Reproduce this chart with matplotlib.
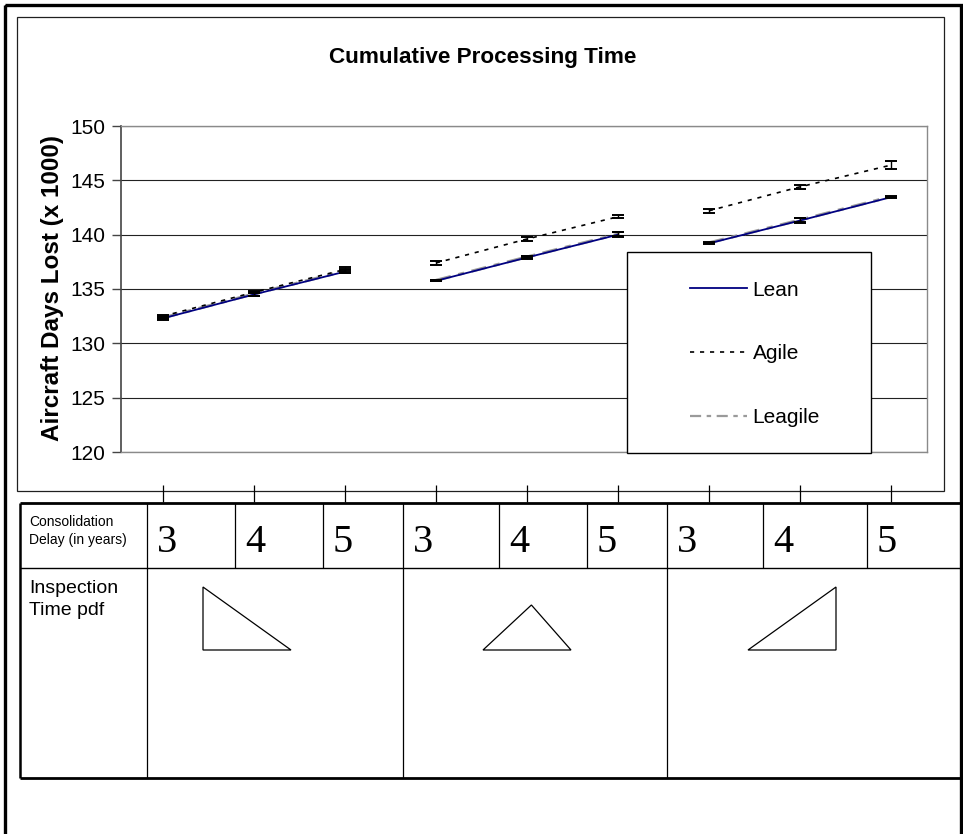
import matplotlib.pyplot as plt
import matplotlib.transforms as mtransforms
from matplotlib.lines import Line2D
from matplotlib.patches import Polygon, Rectangle
import numpy as np

# consolidation delay for each of the nine scenarios (3 pdf shapes x 3 delays)
delay_years = [3, 4, 5, 3, 4, 5, 3, 4, 5]
# where the inspection time pdf peaks inside its range (0 = left, 1 = right)
pdf_peak = [0.0, 0.55, 1.0]

# aircraft days lost (x 1000) and error bar half-widths
lean = [132.3, 134.5, 136.6, 135.75, 137.9, 140.0, 139.2, 141.3, 143.45]
lean_err = [0.15, 0.15, 0.15, 0.05, 0.1, 0.2, 0.05, 0.25, 0.05]
agile = [132.5, 134.7, 136.8, 137.4, 139.6, 141.65, 142.2, 144.4, 146.4]
agile_err = [0.15, 0.1, 0.2, 0.15, 0.15, 0.15, 0.2, 0.2, 0.4]
leagile = [132.35, 134.55, 136.65, 135.8, 137.95, 140.05, 139.25, 141.35, 143.5]
leagile_err = [0.15, 0.15, 0.2, 0.05, 0.1, 0.15, 0.05, 0.2, 0.05]

SANS = ["Liberation Sans", "DejaVu Sans"]
W, H = 963, 834

fig = plt.figure(figsize=(W / 100, H / 100), dpi=100)

# page layer in pixel coordinates, origin at top left
page = fig.add_axes([0, 0, 1, 1], zorder=0)
page.set_xlim(0, W)
page.set_ylim(H, 0)
page.axis("off")


def px_box(x0, y0, x1, y1):
    return [x0 / W, 1 - y1 / H, (x1 - x0) / W, (y1 - y0) / H]


ax = fig.add_axes(px_box(121, 126, 927, 452), zorder=2)

x = np.arange(len(delay_years))
groups = [slice(0, 3), slice(3, 6), slice(6, 9)]

lean_style = dict(color="#000080", lw=1.3, ls="-")
agile_style = dict(color="black", lw=1.2, ls=(0, (2.5, 3.5)))
leagile_style = dict(color="#9a9a9a", lw=2.2, ls=(0, (5, 2.5, 2, 2.5)))

for g in groups:
    ax.plot(x[g], leagile[g], zorder=2, **leagile_style)
    ax.plot(x[g], lean[g], zorder=3, **lean_style)
    ax.plot(x[g], agile[g], zorder=3, **agile_style)

for vals, errs in [(leagile, leagile_err), (lean, lean_err), (agile, agile_err)]:
    ax.errorbar(x, vals, yerr=errs, fmt="none", ecolor="black",
                elinewidth=1.0, capsize=4.5, capthick=1.4, zorder=4)

ax.set_ylim(120, 150)
ax.set_xlim(-0.4615, 8.3956)
ax.set_yticks(range(120, 151, 5))
ax.set_xticks([])
ax.grid(axis="y", color="#222222", lw=0.8)
ax.set_axisbelow(True)
for side in ["top", "right", "bottom"]:
    ax.spines[side].set_color("#8a8a8a")
    ax.spines[side].set_linewidth(1.0)
ax.spines["left"].set_color("#444444")
ax.spines["left"].set_linewidth(1.2)
ax.tick_params(axis="y", length=6.5, width=1, color="#444444", pad=5)
for lbl in ax.get_yticklabels():
    lbl.set_fontfamily(SANS)
    lbl.set_fontsize(15)

# legend box
ax.add_patch(Rectangle(((627 - 121) / 806, (452 - 453) / 326), 244 / 806, 201 / 326,
                       transform=ax.transAxes, facecolor="white", edgecolor="black",
                       lw=1.0, clip_on=False, zorder=4.5))
handles = [Line2D([], [], **lean_style),
           Line2D([], [], **agile_style),
           Line2D([], [], **dict(leagile_style, lw=1.6))]
ax.legend(handles, ["Lean", "Agile", "Leagile"], loc="center",
          bbox_to_anchor=((755 - 121) / 806, (452 - 354) / 326),
          frameon=False, prop=dict(family=SANS, size=15),
          handlelength=2.75, handletextpad=0.25, labelspacing=2.15)

# outer frame and chart area
page.add_patch(Rectangle((5, 5), 956, 840, fill=False, lw=2.4, edgecolor="black", clip_on=False))
page.add_patch(Rectangle((17, 17), 927, 474, fill=False, lw=0.9, edgecolor="#202020"))

page.text(483, 63, "Cumulative Processing Time", ha="center", va="baseline",
          fontsize=16.2, fontweight="bold", family=SANS)
page.text(53, 288, "Aircraft Days Lost (x 1000)", ha="center", va="center",
          rotation=90, fontsize=17.5, fontweight="bold", family=SANS)

# category ticks linking the chart to the table
blend = mtransforms.blended_transform_factory(ax.transData, page.transData)
page.vlines(x, 485, 502, transform=blend, color="black", lw=0.9)

# scenario table
tbl_left, tbl_right, tbl_top, tbl_mid, tbl_bottom = 20, 962, 503, 568, 778
col_edges = [147, 235, 323, 403, 499, 587, 667, 763, 867, tbl_right]
group_edges = [147, 403, 667, tbl_right]

page.hlines([tbl_top, tbl_bottom], tbl_left, tbl_right, color="black", lw=2.0)
page.hlines(tbl_mid, tbl_left, tbl_right, color="black", lw=1.0)
page.vlines(tbl_left, tbl_top, tbl_bottom, color="black", lw=1.8)
page.vlines(tbl_right, tbl_top, tbl_bottom, color="black", lw=1.2)
page.vlines(col_edges[:-1], tbl_top, tbl_mid, color="black", lw=0.9)
page.vlines(group_edges[:-1], tbl_mid, tbl_bottom, color="black", lw=0.9)

page.text(29, 531, "Consolidation\nDelay (in years)", ha="left", va="center",
          fontsize=10, family=SANS, linespacing=1.3)
page.text(29, 580, "Inspection\nTime pdf", ha="left", va="top",
          fontsize=14, family=SANS, linespacing=1.35)

for left, yr in zip(col_edges[:-1], delay_years):
    page.text(left + 10, 552, str(yr), ha="left", va="baseline",
              fontsize=29, family=["Liberation Serif", "DejaVu Serif"])

# inspection time pdf shapes
tri_left = [203, 483, 748]
tri_top = [587, 605, 587]
for left, top, peak in zip(tri_left, tri_top, pdf_peak):
    pts = [(left, 650), (left + 88 * peak, top), (left + 88, 650)]
    page.add_patch(Polygon(pts, closed=True, fill=False, edgecolor="black", lw=0.9))

fig.savefig("out.png", dpi=100)
